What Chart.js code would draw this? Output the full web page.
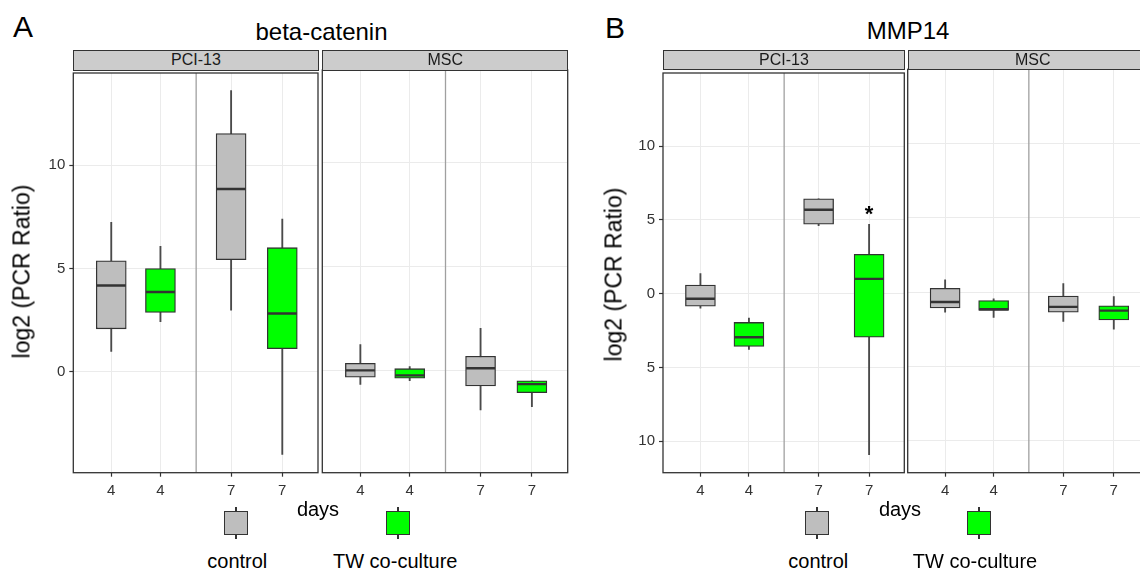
<!DOCTYPE html>
<html>
<head>
<meta charset="utf-8">
<script src="https://cdn.jsdelivr.net/npm/chart.js@4.4.0/dist/chart.umd.min.js"></script>
<style>
  html, body { margin: 0; padding: 0; }
  body { width: 1140px; height: 570px; overflow: hidden; background: #fff; position: relative;
         font-family: "Liberation Sans", Arial, Helvetica, sans-serif; color: #000; }
  .txt { position: absolute; white-space: nowrap; line-height: 1; }
  .strip { position: absolute; box-sizing: border-box; background: #cccccc; border: 1.3px solid #333;
           font-size: 16px; color: #1a1a1a; display: flex; align-items: center; justify-content: center; line-height: 1; }
  canvas { position: absolute; }
  .key { position: absolute; box-sizing: border-box; border: 1.4px solid #333; }
  .stub { position: absolute; width: 1.3px; background: #333; }
</style>
</head>
<body>
<canvas id="aPci" width="330" height="450" style="left:0px;top:60px"></canvas>
<canvas id="aMsc" width="260" height="450" style="left:320px;top:60px"></canvas>
<canvas id="bPci" width="320" height="450" style="left:590px;top:60px"></canvas>
<canvas id="bMsc" width="260" height="450" style="left:905px;top:60px"></canvas>

<script>
// ---------------- data ----------------
const days = ['4', '4', '7', '7'];
const groups = ['control', 'TW co-culture', 'control', 'TW co-culture'];
const facetNames = ['PCI-13', 'MSC'];
const legendLabels = ['control', 'TW co-culture'];

// beta-catenin, PCI-13
const bcPciMin = [0.98, 2.42, 2.98, -4.0];
const bcPciQ1  = [2.08, 2.87, 5.43, 1.12];
const bcPciMed = [4.18, 3.86, 8.85, 2.82];
const bcPciQ3  = [5.37, 5.00, 11.54, 6.01];
const bcPciMax = [7.24, 6.07, 13.62, 7.39];
// beta-catenin, MSC
const bcMscMin = [-0.64, -0.47, -1.87, -1.72];
const bcMscQ1  = [-0.30, -0.35, -0.72, -1.04];
const bcMscMed = [0.03, -0.21, 0.13, -0.63];
const bcMscQ3  = [0.37, 0.11, 0.71, -0.47];
const bcMscMax = [1.27, 0.21, 2.05, -0.47];
// MMP14, PCI-13
const mmPciMin = [-0.98, -3.78, 4.61, -10.9];
const mmPciQ1  = [-0.85, -3.58, 4.70, -2.95];
const mmPciMed = [-0.34, -2.95, 5.68, 1.00];
const mmPciQ3  = [0.58, -1.95, 6.42, 2.66];
const mmPciMax = [1.36, -1.66, 6.42, 4.70];
const mmPciSig = ['', '', '', '*'];
// MMP14, MSC
const mmMscMin = [-1.36, -1.70, -1.97, -2.50];
const mmMscQ1  = [-1.07, -1.23, -1.36, -1.88];
const mmMscMed = [-0.67, -1.16, -1.00, -1.25];
const mmMscQ3  = [0.25, -0.58, -0.27, -0.92];
const mmMscMax = [0.81, -0.45, 0.56, -0.31];

// y ticks
const bcYTicks = [0, 5, 10];
const bcYTickLabels = ['0', '5', '10'];
const mmYTicks = [-10, -5, 0, 5, 10];
const mmYTickLabels = ['10', '5', '0', '5', '10'];

// ---------------- styling / layout ----------------
const FONT = '"Liberation Sans", Arial, Helvetica, sans-serif';
const groupColors = { 'control': '#bebebe', 'TW co-culture': '#00ff00' };
const slotPos = [0.76, 1.745, 3.16, 4.185];   // dodge positions inside a facet
const sepPos = 2.46;                           // day separator
const X_MIN = 0, X_MAX = 4.9;

const decoPlugin = {
  id: 'panelDeco',
  beforeDatasetsDraw(chart, args, opts) {
    const { ctx, chartArea: a, scales: { x } } = chart;
    const px = x.getPixelForValue(opts.sep);
    ctx.save();
    ctx.strokeStyle = '#a0a0a0';
    ctx.lineWidth = 1.3;
    ctx.beginPath(); ctx.moveTo(px, a.top); ctx.lineTo(px, a.bottom); ctx.stroke();
    ctx.restore();
  },
  afterDraw(chart, args, opts) {
    const { ctx, chartArea: a, scales: { x, y } } = chart;
    ctx.save();
    ctx.strokeStyle = '#333';
    ctx.lineWidth = 1.3;
    ctx.strokeRect(a.left, a.top, a.right - a.left, a.bottom - a.top);
    if (opts.sig) {
      ctx.fillStyle = '#000';
      ctx.font = 'bold 22px ' + FONT;
      ctx.textAlign = 'center';
      ctx.textBaseline = 'alphabetic';
      opts.sig.forEach((s, i) => {
        if (!s) return;
        const px = x.getPixelForValue(slotPos[i]);
        const py = y.getPixelForValue(opts.max[i]);
        ctx.fillText(s, px, py - 3);
      });
    }
    ctx.restore();
  }
};

function facetChart(id, d, o) {
  const whiskers = d.min.map((m, i) => ({ x: slotPos[i], y: [m, d.max[i]] }));
  const boxes = d.q1.map((q, i) => ({ x: slotPos[i], y: [q, d.q3[i]] }));
  const medians = d.med.map((m, i) => ({ x: slotPos[i], y: m }));
  return new Chart(document.getElementById(id), {
    type: 'bar',
    data: {
      datasets: [
        { type: 'bar', label: 'whisker', data: whiskers, backgroundColor: '#4a4a4a', borderWidth: 0,
          barThickness: 1.2, grouped: false, order: 3 },
        { type: 'bar', label: 'box', data: boxes, backgroundColor: groups.map(g => groupColors[g]),
          borderColor: '#333', borderWidth: 1.3, borderSkipped: false, barThickness: 30, grouped: false, order: 2 },
        { type: 'scatter', label: 'median', data: medians, pointStyle: 'line', pointRadius: 14.5,
          pointHoverRadius: 14.5, pointBorderColor: '#333', pointBorderWidth: 2.4, borderColor: '#333', order: 1 }
      ]
    },
    options: {
      responsive: false, animation: false, devicePixelRatio: 1, events: [],
      layout: { autoPadding: false, padding: { top: o.padTop, left: o.padLeft, right: o.padRight, bottom: 0 } },
      plugins: {
        legend: { display: false }, tooltip: { enabled: false },
        panelDeco: { sep: sepPos, sig: o.sig || null, max: d.max }
      },
      scales: {
        x: {
          type: 'linear', min: X_MIN, max: X_MAX, offset: false,
          afterBuildTicks: s => { s.ticks = slotPos.map(v => ({ value: v })); },
          afterFit: s => { s.height = o.xAxisHeight; },
          ticks: { callback: (v, i) => days[i], color: '#333', font: { family: FONT, size: 15 },
                   padding: 5, autoSkip: false, maxRotation: 0, minRotation: 0 },
          grid: { offset: false, color: '#ebebeb', lineWidth: 1, drawTicks: true, tickLength: 4, tickColor: '#333', tickWidth: 1.2 },
          border: { display: false }
        },
        y: {
          type: 'linear', min: o.yMin, max: o.yMax,
          afterBuildTicks: s => { s.ticks = o.yTicks.map(v => ({ value: v })); },
          afterFit: s => { s.width = o.yAxisWidth; },
          ticks: { display: o.showY, callback: (v, i) => o.yLabels[i], color: '#333',
                   font: { family: FONT, size: 15 }, padding: 4 },
          grid: { offset: false, color: '#ebebeb', lineWidth: 1, drawTicks: o.showY, tickLength: 4, tickColor: '#333', tickWidth: 1.2 },
          border: { display: false }
        }
      }
    },
    plugins: [decoPlugin]
  });
}

const bcRange = { yMin: -4.89, yMax: 14.47, yTicks: bcYTicks, yLabels: bcYTickLabels };
const mmRange = { yMin: -12.13, yMax: 14.95, yTicks: mmYTicks, yLabels: mmYTickLabels };

facetChart('aPci', { min: bcPciMin, q1: bcPciQ1, med: bcPciMed, q3: bcPciQ3, max: bcPciMax },
  Object.assign({ showY: true, yAxisWidth: 73.3, padTop: 10, padLeft: 0, padRight: 12, xAxisHeight: 37.3 }, bcRange));
facetChart('aMsc', { min: bcMscMin, q1: bcMscQ1, med: bcMscMed, q3: bcMscQ3, max: bcMscMax },
  Object.assign({ showY: false, yAxisWidth: 0, padTop: 10, padLeft: 2.3, padRight: 12.3, xAxisHeight: 37.3 }, bcRange));
facetChart('bPci', { min: mmPciMin, q1: mmPciQ1, med: mmPciMed, q3: mmPciQ3, max: mmPciMax },
  Object.assign({ showY: true, yAxisWidth: 73, padTop: 9.3, padLeft: 0, padRight: 5.7, xAxisHeight: 37.3, sig: mmPciSig }, mmRange));
facetChart('bMsc', { min: mmMscMin, q1: mmMscQ1, med: mmMscMed, q3: mmMscQ3, max: mmMscMax },
  Object.assign({ showY: false, yAxisWidth: 0, padTop: 9.3, padLeft: 2.7, padRight: 16, xAxisHeight: 37.3 }, mmRange));

// ---------------- text & decorations (real text) ----------------
function addText(str, opt) {
  const el = document.createElement('div');
  el.className = 'txt';
  el.textContent = str;
  el.style.fontSize = opt.size + 'px';
  if (opt.center !== undefined) {
    el.style.left = (opt.center - 200) + 'px';
    el.style.width = '400px';
    el.style.textAlign = 'center';
  } else {
    el.style.left = opt.left + 'px';
  }
  el.style.top = opt.top + 'px';
  if (opt.rotate) el.style.transform = 'rotate(-90deg)';
  document.body.appendChild(el);
  return el;
}
function addStrip(str, left, top, width, height) {
  const el = document.createElement('div');
  el.className = 'strip';
  el.textContent = str;
  el.style.left = left + 'px'; el.style.top = top + 'px';
  el.style.width = width + 'px'; el.style.height = height + 'px';
  document.body.appendChild(el);
}
function addKey(center, color) {
  const k = document.createElement('div');
  k.className = 'key';
  k.style.left = (center - 11.7) + 'px'; k.style.top = '510.7px';
  k.style.width = '23.4px'; k.style.height = '24.6px';
  k.style.background = color;
  document.body.appendChild(k);
  [[506.5, 4.4], [535, 4.2]].forEach(([t, h]) => {
    const s = document.createElement('div');
    s.className = 'stub';
    s.style.left = (center - 0.65) + 'px'; s.style.top = t + 'px'; s.style.height = h + 'px';
    document.body.appendChild(s);
  });
}

// panel letters & titles
addText('A', { left: 13, top: 11.6, size: 30 });
addText('beta-catenin', { center: 321.5, top: 19.7, size: 24 });
addText('B', { left: 605, top: 12.6, size: 30 });
addText('MMP14', { center: 908, top: 18.7, size: 24 });

// facet strips
addStrip(facetNames[0], 73.3, 49.7, 245.3, 21);
addStrip(facetNames[1], 322.3, 49.7, 246, 21);
addStrip(facetNames[0], 663, 50, 241.9, 20);
addStrip(facetNames[1], 907.7, 50, 250, 20);

// y axis titles (rotated)
addText('log2 (PCR Ratio)', { center: 21.8, top: 271 - 11.5, size: 23, rotate: true });
addText('log2 (PCR Ratio)', { center: 613.8, top: 274 - 11.5, size: 23, rotate: true });

// x axis titles
addText('days', { center: 318, top: 498.6, size: 20 });
addText('days', { center: 900, top: 498.6, size: 20 });

// legends
addKey(236, groupColors[legendLabels[0]]);
addKey(398, groupColors[legendLabels[1]]);
addText(legendLabels[0], { center: 237.3, top: 551.4, size: 20 });
addText(legendLabels[1], { center: 395.2, top: 551.4, size: 20 });
addKey(817, groupColors[legendLabels[0]]);
addKey(979, groupColors[legendLabels[1]]);
addText(legendLabels[0], { center: 818.3, top: 551.4, size: 20 });
addText(legendLabels[1], { center: 975, top: 551.4, size: 20 });
</script>
</body>
</html>
